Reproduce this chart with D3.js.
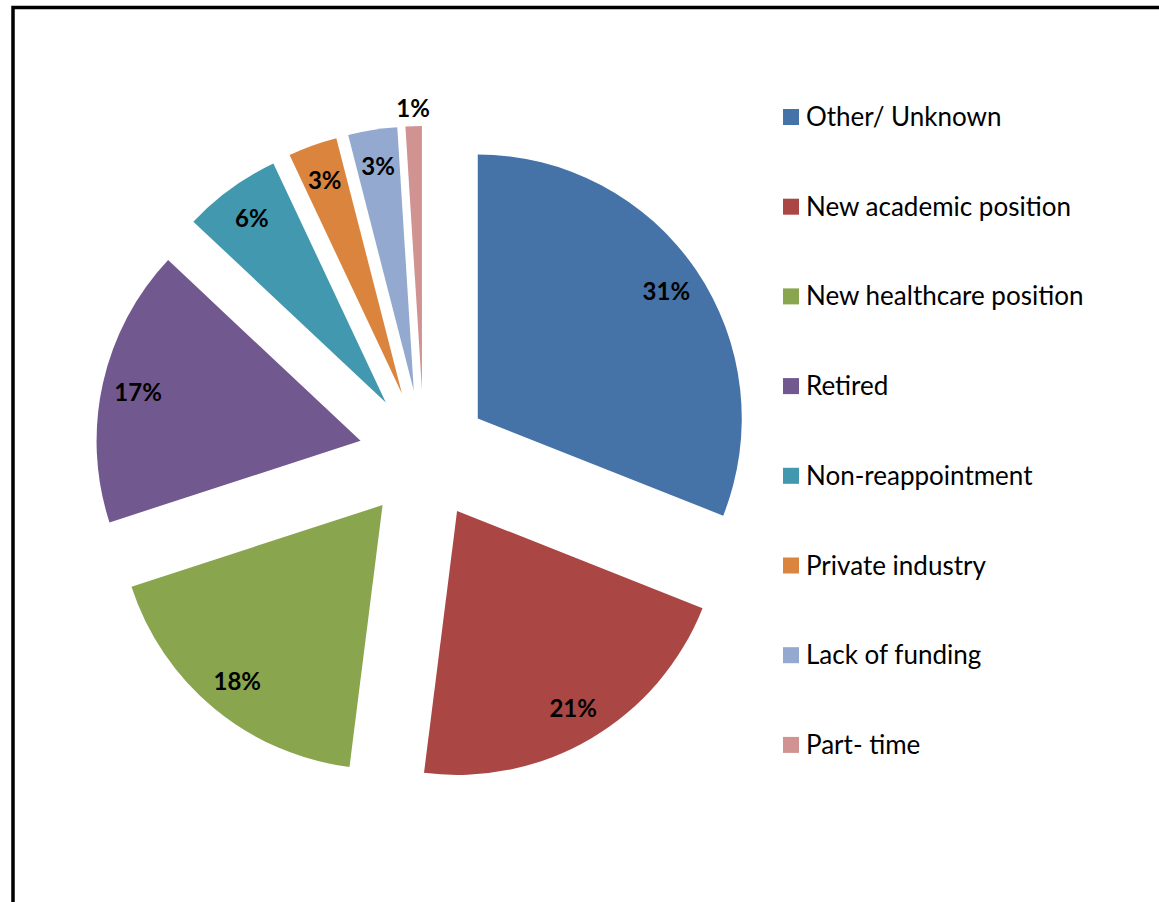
<!DOCTYPE html>
<html lang="en">
<head>
    <meta charset="UTF-8">
    <title>Reasons for leaving</title>
    <script src="https://d3js.org/d3.v7.min.js"></script>
</head>
<body style="margin:0; background:#fff;">

<style>
    svg {
        font-family: Lato, "Open Sans", sans-serif;
    }
    .slice-label {
        font-weight: bold;
        font-size: 24px;
        fill: #000;
    }
    .legend text {
        font-size: 26px;
        fill: #000;
    }
</style>

<div id="chart"></div>

<script>
    // data
    var categories = ["Other/ Unknown", "New academic position", "New healthcare position", "Retired",
        "Non-reappointment", "Private industry", "Lack of funding", "Part- time"];
    var percents = [31, 21, 18, 17, 6, 3, 3, 1];
    var colors = ["#4572A7", "#AA4643", "#89A54E", "#71588F", "#4198AF", "#DB843D", "#93A9CF", "#D19392"];

    var width = 1159, height = 902;
    var cx = 424, cy = 455, radius = 264, explode = 65;

    var svg = d3.select("#chart").append("svg")
        .attr("width", width)
        .attr("height", height);

    // frame (only left and top edges visible in the crop)
    svg.append("rect")
        .attr("x", 13).attr("y", 7.5)
        .attr("width", width + 20).attr("height", height + 20)
        .attr("fill", "none")
        .attr("stroke", "#000")
        .attr("stroke-width", 3.5);

    var pie = d3.pie().sort(null).value(function(d) { return d; });
    var arcs = pie(percents);

    var arc = d3.arc().innerRadius(0).outerRadius(radius);

    function offset(d) {
        var mid = (d.startAngle + d.endAngle) / 2;
        return [Math.sin(mid) * explode, -Math.cos(mid) * explode];
    }

    var g = svg.append("g").attr("transform", "translate(" + cx + "," + cy + ")");

    var slices = g.selectAll(".slice")
        .data(arcs).enter()
        .append("g")
        .attr("class", "slice")
        .attr("transform", function(d) {
            var o = offset(d);
            return "translate(" + o[0] + "," + o[1] + ")";
        });

    slices.append("path")
        .attr("d", arc)
        .attr("fill", function(d, i) { return colors[i]; });

    // data labels, small slices get theirs outside
    slices.append("text")
        .attr("class", "slice-label")
        .attr("text-anchor", "middle")
        .attr("dominant-baseline", "central")
        .attr("transform", function(d) {
            var r = d.data < 2 ? radius + 19 : 228;
            var p = d3.arc().innerRadius(r).outerRadius(r).centroid(d);
            return "translate(" + p[0] + "," + p[1] + ")";
        })
        .text(function(d) { return d.data + "%"; });

    // legend
    var legend = svg.append("g").attr("class", "legend")
        .attr("transform", "translate(783,117)");

    var rows = legend.selectAll("g")
        .data(categories).enter()
        .append("g")
        .attr("transform", function(d, i) { return "translate(0," + (i * 89.7) + ")"; });

    rows.append("rect")
        .attr("x", 0).attr("y", -8)
        .attr("width", 16).attr("height", 16)
        .attr("fill", function(d, i) { return colors[i]; });

    rows.append("text")
        .attr("x", 23)
        .attr("y", -1)
        .attr("dominant-baseline", "central")
        .text(function(d) { return d; });
</script>

</body>
</html>
